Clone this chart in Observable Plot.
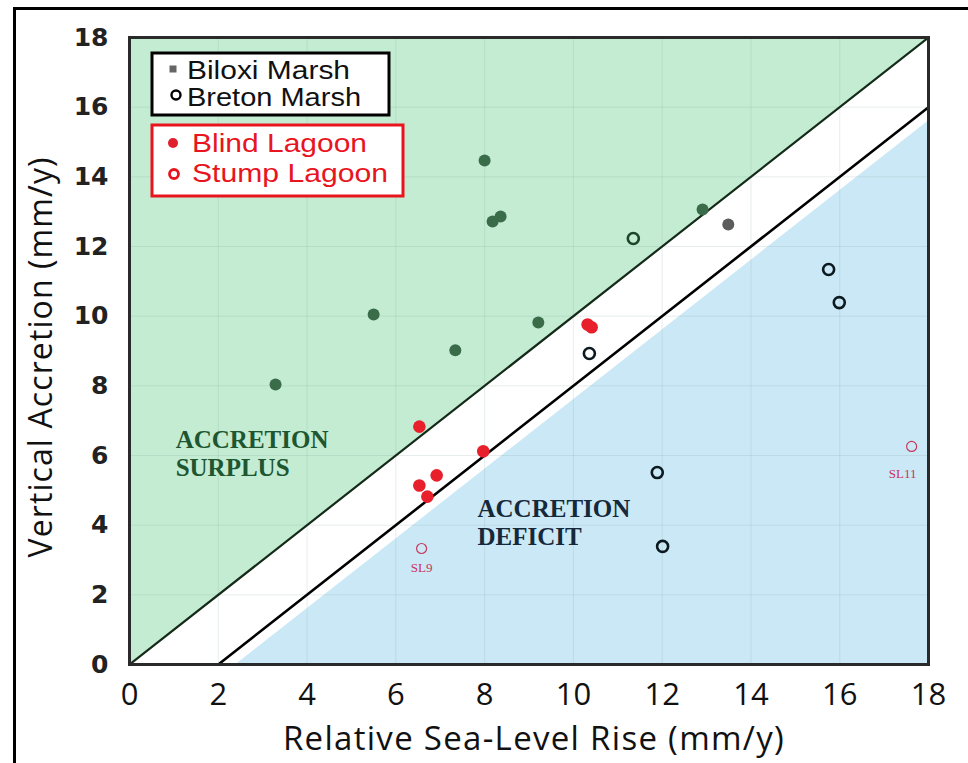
<!DOCTYPE html>
<html>
<head>
<meta charset="utf-8">
<script src="https://cdn.jsdelivr.net/npm/d3@7"></script>
<script src="https://cdn.jsdelivr.net/npm/@observablehq/plot@0.6"></script>
<style>
  html, body { margin: 0; padding: 0; background: #fff; overflow: hidden; }
  #wrap { position: relative; width: 968px; height: 763px; }
  #outer { position: absolute; left: 13px; top: 7px; width: 980px; height: 780px; border: 3px solid #000; box-sizing: border-box; pointer-events: none; }
</style>
</head>
<body>
<div id="wrap"><div id="outer"></div></div>
<script>
// ---- data ----
const biloxiX = [3.29, 5.50, 7.34, 8.00, 8.18, 8.36, 9.21, 12.91, 13.49];
const biloxiY = [8.04, 10.05, 9.02, 14.47, 12.72, 12.86, 9.82, 13.06, 12.63];

const bretonX = [11.35, 10.36, 15.75, 15.99, 11.89, 12.01];
const bretonY = [12.23, 8.93, 11.34, 10.39, 5.51, 3.39];

const blindX = [6.53, 7.97, 6.92, 6.53, 6.71, 10.32, 10.41];
const blindY = [6.83, 6.12, 5.43, 5.14, 4.82, 9.76, 9.68];

const stumpX = [6.58, 17.62];
const stumpY = [3.33, 6.26];
const stumpLabels = ["SL9", "SL11"];

const xTicks = [0, 2, 4, 6, 8, 10, 12, 14, 16, 18];
const yTicks = [0, 2, 4, 6, 8, 10, 12, 14, 16, 18];

const seriesNames = ["Biloxi Marsh", "Breton Marsh", "Blind Lagoon", "Stump Lagoon"];
const xLabel = "Relative Sea-Level Rise (mm/y)";
const yLabel = "Vertical Accretion (mm/y)";
const surplusText = "ACCRETION\nSURPLUS";
const deficitText = "ACCRETION\nDEFICIT";

// 1:1 line (accretion = RSLR) and the deficit line (offset 2 mm/y)
const surplusOffset = 0;
const deficitOffset = 2;
const blueOffset = 2.4;

const zip = (xs, ys, extra) => xs.map((x, i) => ({x, y: ys[i], ...(extra ? extra(i) : {})}));
const biloxi = zip(biloxiX, biloxiY);
const breton = zip(bretonX, bretonY);
const blind = zip(blindX, blindY);
const stump = zip(stumpX, stumpY, i => ({label: stumpLabels[i]}));

const inSurplus = d => d.y >= d.x - 0.3;

const GREEN_BG = "#c4ecd2";
const BLUE_BG = "#cbe8f6";

const chart = Plot.plot({
  width: 968,
  height: 763,
  marginLeft: 129,
  marginRight: 40,
  marginTop: 37,
  marginBottom: 99,
  x: {domain: [0, 18], ticks: xTicks},
  y: {domain: [0, 18], ticks: yTicks},
  style: {background: "transparent", overflow: "visible"},
  marks: [
    // background regions
    Plot.areaY([0, 18], {x: d => d, y1: d => d + surplusOffset, y2: () => 18, fill: GREEN_BG}),
    Plot.areaY([0, blueOffset, 18], {x: d => d, y1: () => 0, y2: d => Math.max(0, d - blueOffset), fill: BLUE_BG}),
    Plot.gridX(xTicks, {stroke: "#7a9a9a", strokeOpacity: 0.18}),
    Plot.gridY(yTicks, {stroke: "#7a9a9a", strokeOpacity: 0.18}),
    // reference lines
    Plot.line([0, 18], {x: d => d, y: d => d + surplusOffset, stroke: "#142a18", strokeWidth: 2.2, clip: true}),
    Plot.line([deficitOffset, 18], {x: d => d, y: d => d - deficitOffset, stroke: "#000", strokeWidth: 2.6, clip: true}),
    // axes (tick labels)
    Plot.axisX(xTicks, {tickSize: 0, tickPadding: 18, fontSize: 31, fill: "#111", fontFamily: "Open Sans", label: null}),
    Plot.axisY(yTicks, {tickSize: 0, tickPadding: 21, fontSize: 25, fill: "#222", fontWeight: "bold", fontFamily: "DejaVu Sans", label: null}),
    // region labels
    Plot.text([surplusText], {x: () => 1.04, y: () => 6.06, text: d => d, textAnchor: "start", lineAnchor: "middle",
      fontFamily: "Liberation Serif", fontWeight: "bold", fontSize: 25, lineHeight: 1.1, fill: "#1d5631"}),
    Plot.text([deficitText], {x: () => 7.84, y: () => 4.08, text: d => d, textAnchor: "start", lineAnchor: "middle",
      fontFamily: "Liberation Serif", fontWeight: "bold", fontSize: 25, lineHeight: 1.1, fill: "#15293a"}),
    // data
    Plot.dot(biloxi, {x: "x", y: "y", r: 6, fill: d => inSurplus(d) ? "#3a6c4a" : "#5c5c5c", stroke: "none"}),
    Plot.dot(breton, {x: "x", y: "y", r: 5.5, fill: "none", stroke: d => inSurplus(d) ? "#1c4529" : "#0c1a20", strokeWidth: 2.6}),
    Plot.dot(blind, {x: "x", y: "y", r: 6.3, fill: "#e8202c", stroke: "none"}),
    Plot.dot(stump, {x: "x", y: "y", r: 5, fill: "none", stroke: "#c73a5e", strokeWidth: 1.2}),
    Plot.text(stump.filter(d => d.label === "SL9"), {x: "x", y: "y", text: "label", dy: 19, fontSize: 13,
      fontFamily: "Liberation Serif", fill: "#c8325a"}),
    Plot.text(stump.filter(d => d.label === "SL11"), {x: "x", y: "y", text: "label", dy: 27, dx: -9, fontSize: 13,
      fontFamily: "Liberation Serif", fill: "#c8325a"}),
    Plot.frame({stroke: "#2a2a2a", strokeWidth: 3})
  ]
});

const svg = d3.select(chart);
// axis titles
svg.append("text").attr("transform", "translate(534,750)")
  .attr("text-anchor", "middle").attr("font-family", "Open Sans").attr("font-size", 33)
  .attr("letter-spacing", 1.3).attr("fill", "#111").text(xLabel);
svg.append("text").attr("transform", "translate(52,357) rotate(-90)")
  .attr("text-anchor", "middle").attr("font-family", "Open Sans").attr("font-size", 32)
  .attr("letter-spacing", 1.1).attr("fill", "#111").text(yLabel);

// legend boxes drawn inside the plot area
const lg = svg.append("g").attr("font-family", "Liberation Sans").attr("text-anchor", "start");
lg.append("rect").attr("x", 152).attr("y", 53).attr("width", 237).attr("height", 62)
  .attr("fill", "#fff").attr("stroke", "#000").attr("stroke-width", 3);
lg.append("rect").attr("x", 169.5).attr("y", 65.5).attr("width", 7).attr("height", 7).attr("fill", "#666");
lg.append("circle").attr("cx", 176).attr("cy", 95).attr("r", 4.5).attr("fill", "none").attr("stroke", "#000").attr("stroke-width", 2.4);
const legendText = (x, y, size, len, fill, s) =>
  lg.append("text").attr("x", x).attr("y", y).attr("font-size", size).attr("fill", fill)
    .attr("textLength", len).attr("lengthAdjust", "spacingAndGlyphs").text(s);
legendText(187, 78.5, 25, 163, "#111", seriesNames[0]);
legendText(187, 106, 25, 174, "#111", seriesNames[1]);
lg.append("rect").attr("x", 152).attr("y", 125).attr("width", 251).attr("height", 71)
  .attr("fill", "#fff").attr("stroke", "#e8141e").attr("stroke-width", 3);
lg.append("circle").attr("cx", 173).attr("cy", 143).attr("r", 5).attr("fill", "#e0202c");
lg.append("circle").attr("cx", 174).attr("cy", 174).attr("r", 4.5).attr("fill", "none").attr("stroke", "#e8141e").attr("stroke-width", 2.8);
legendText(192, 152, 26, 175, "#e8141e", seriesNames[2]);
legendText(192, 182, 26, 196, "#e8141e", seriesNames[3]);

chart.style.position = "absolute";
chart.style.left = "0px";
chart.style.top = "0px";
document.getElementById("wrap").insertBefore(chart, document.getElementById("outer"));
</script>
</body>
</html>
